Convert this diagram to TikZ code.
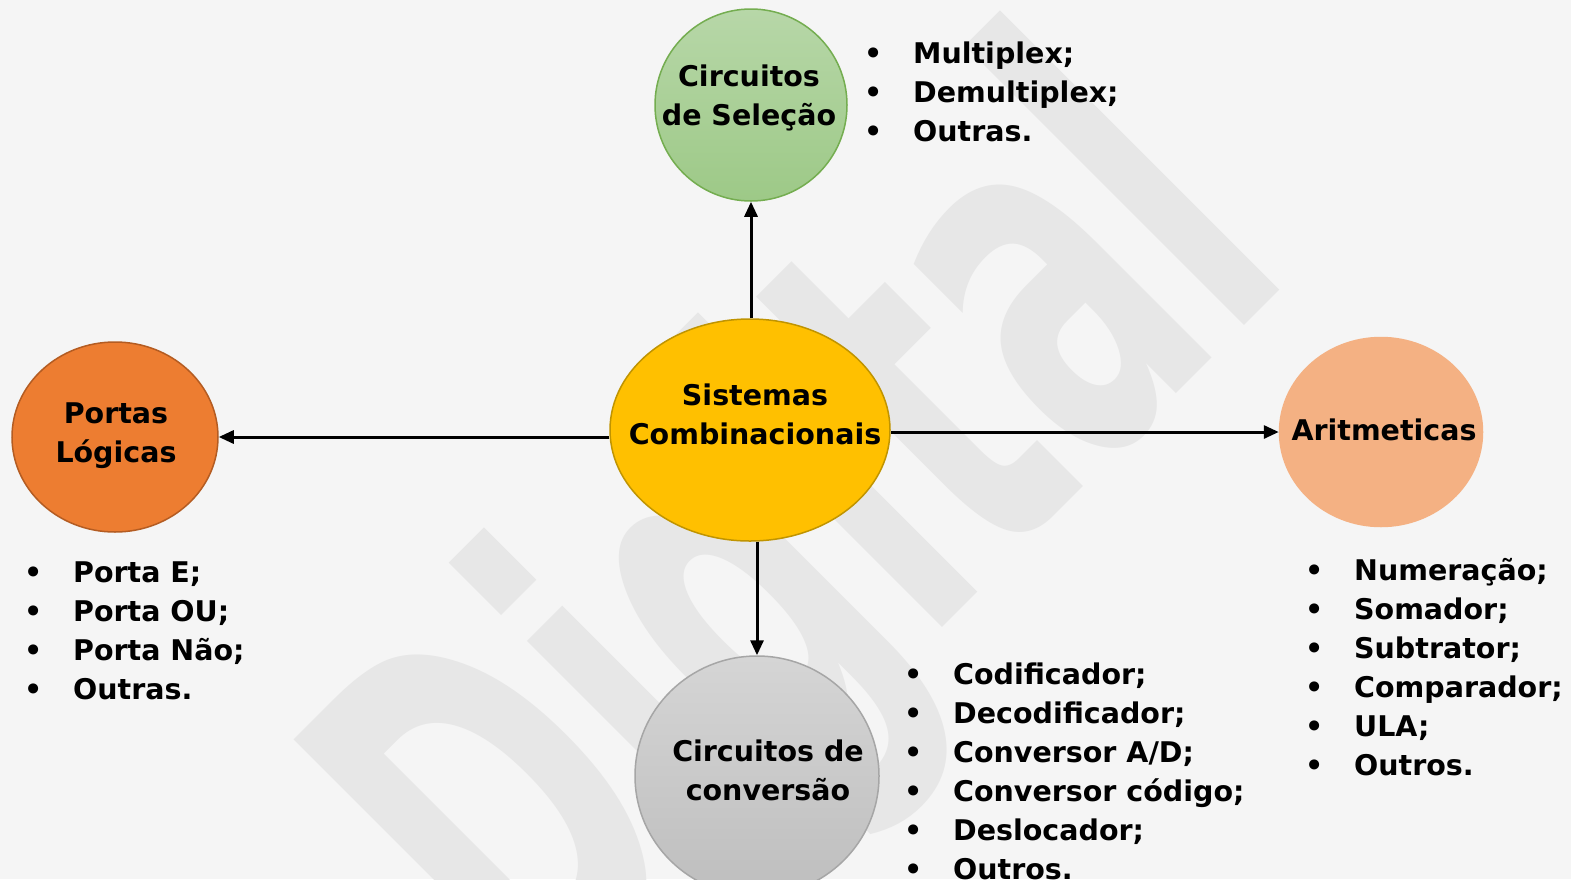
\documentclass[tikz,border=0pt]{standalone}
\usepackage{fontspec}
\setmainfont{DejaVu Sans}
\usetikzlibrary{shapes.geometric, arrows.meta, positioning}
\definecolor{PageBg}{HTML}{F5F5F5}
\definecolor{MarkGray}{HTML}{E7E7E7}
\definecolor{SelTop}{HTML}{B7D7A8}
\definecolor{SelBot}{HTML}{9DC987}
\definecolor{SelLine}{HTML}{74AD50}
\definecolor{SysFill}{HTML}{FFC000}
\definecolor{SysLine}{HTML}{C09400}
\definecolor{PortFill}{HTML}{ED7D31}
\definecolor{PortLine}{HTML}{B45C22}
\definecolor{AritFill}{HTML}{F4B183}
\definecolor{ConvTop}{HTML}{D5D5D5}
\definecolor{ConvBot}{HTML}{BEBEBE}
\definecolor{ConvLine}{HTML}{A6A6A6}

\newcommand{\itm}[1]{\makebox[40pt]{\textbullet}\hspace{20pt}#1}

\begin{document}
\begin{tikzpicture}[
  x=1pt, y=-1pt,
  bubble/.style={ellipse, line width=1.5pt, inner sep=0pt},
  txt/.style={align=center, inner sep=0pt,
              font=\fontsize{28.5}{39}\selectfont\bfseries},
  lst/.style={anchor=base west, inner sep=0pt,
              font=\fontsize{28.5}{39}\selectfont\bfseries},
  arr/.style={-{Triangle[length=15pt, width=13pt]}, line width=3pt, black},
  marca/.style={MarkGray, inner sep=0pt,
                font=\fontsize{520}{520}\selectfont\bfseries},
]
\clip (0,0) rectangle (1571,879);
\fill[PageBg] (0,0) rectangle (1571,879);

% watermark behind everything
\node[marca, rotate=45, xscale=0.55] (marca) at (820,550) {Digital};

% bubbles
\node[bubble, minimum width=280, minimum height=222,
      fill=SysFill, draw=SysLine] (sys) at (750,430) {};
\node[bubble, minimum width=192, minimum height=192,
      top color=SelTop, bottom color=SelBot, draw=SelLine] (sel) at (751,105) {};
\node[bubble, minimum width=206, minimum height=190,
      fill=PortFill, draw=PortLine] (portas) at (115,437) {};
\node[bubble, minimum width=203, minimum height=189,
      fill=AritFill, draw=AritFill] (arit) at (1381,432) {};
\node[bubble, minimum width=244, minimum height=240,
      top color=ConvTop, bottom color=ConvBot, draw=ConvLine] (conv) at (757,776) {};

% bubble texts
\node[txt] (systxt) at (755,414) {Sistemas\\Combinacionais};
\node[txt] (seltxt) at (749,98) {Circuitos\\de Seleção};
\node[txt] (portastxt) at (116,436) {Portas\\Lógicas};
\node[txt] (arittxt) at (1384,430) {Aritmeticas};
\node[txt] (convtxt) at (768,770) {Circuitos de\\conversão};

% item lists
\node[lst] (selitems) at (853,63) {\begin{tabular}[t]{@{}l@{}}
  \itm{Multiplex;}\\ \itm{Demultiplex;}\\ \itm{Outras.}
\end{tabular}};
\node[lst] (portasitems) at (13,582) {\begin{tabular}[t]{@{}l@{}}
  \itm{Porta E;}\\ \itm{Porta OU;}\\ \itm{Porta Não;}\\ \itm{Outras.}
\end{tabular}};
\node[lst] (arititems) at (1294,580) {\begin{tabular}[t]{@{}l@{}}
  \itm{Numeração;}\\ \itm{Somador;}\\ \itm{Subtrator;}\\
  \itm{Comparador;}\\ \itm{ULA;}\\ \itm{Outros.}
\end{tabular}};
\node[lst] (convitems) at (893,684) {\begin{tabular}[t]{@{}l@{}}
  \itm{Codificador;}\\ \itm{Decodificador;}\\ \itm{Conversor A/D;}\\
  \itm{Conversor código;}\\ \itm{Deslocador;}\\ \itm{Outros.}
\end{tabular}};

\draw[arr] (sel.south |- sys.north) -- (sel.south);
\draw[arr] (sys.west |- portas.east) -- (portas.east);
\draw[arr] (sys.east |- arit.west) -- (arit.west);
\draw[arr] (conv.north |- sys.south) -- (conv.north);

\end{tikzpicture}
\end{document}
